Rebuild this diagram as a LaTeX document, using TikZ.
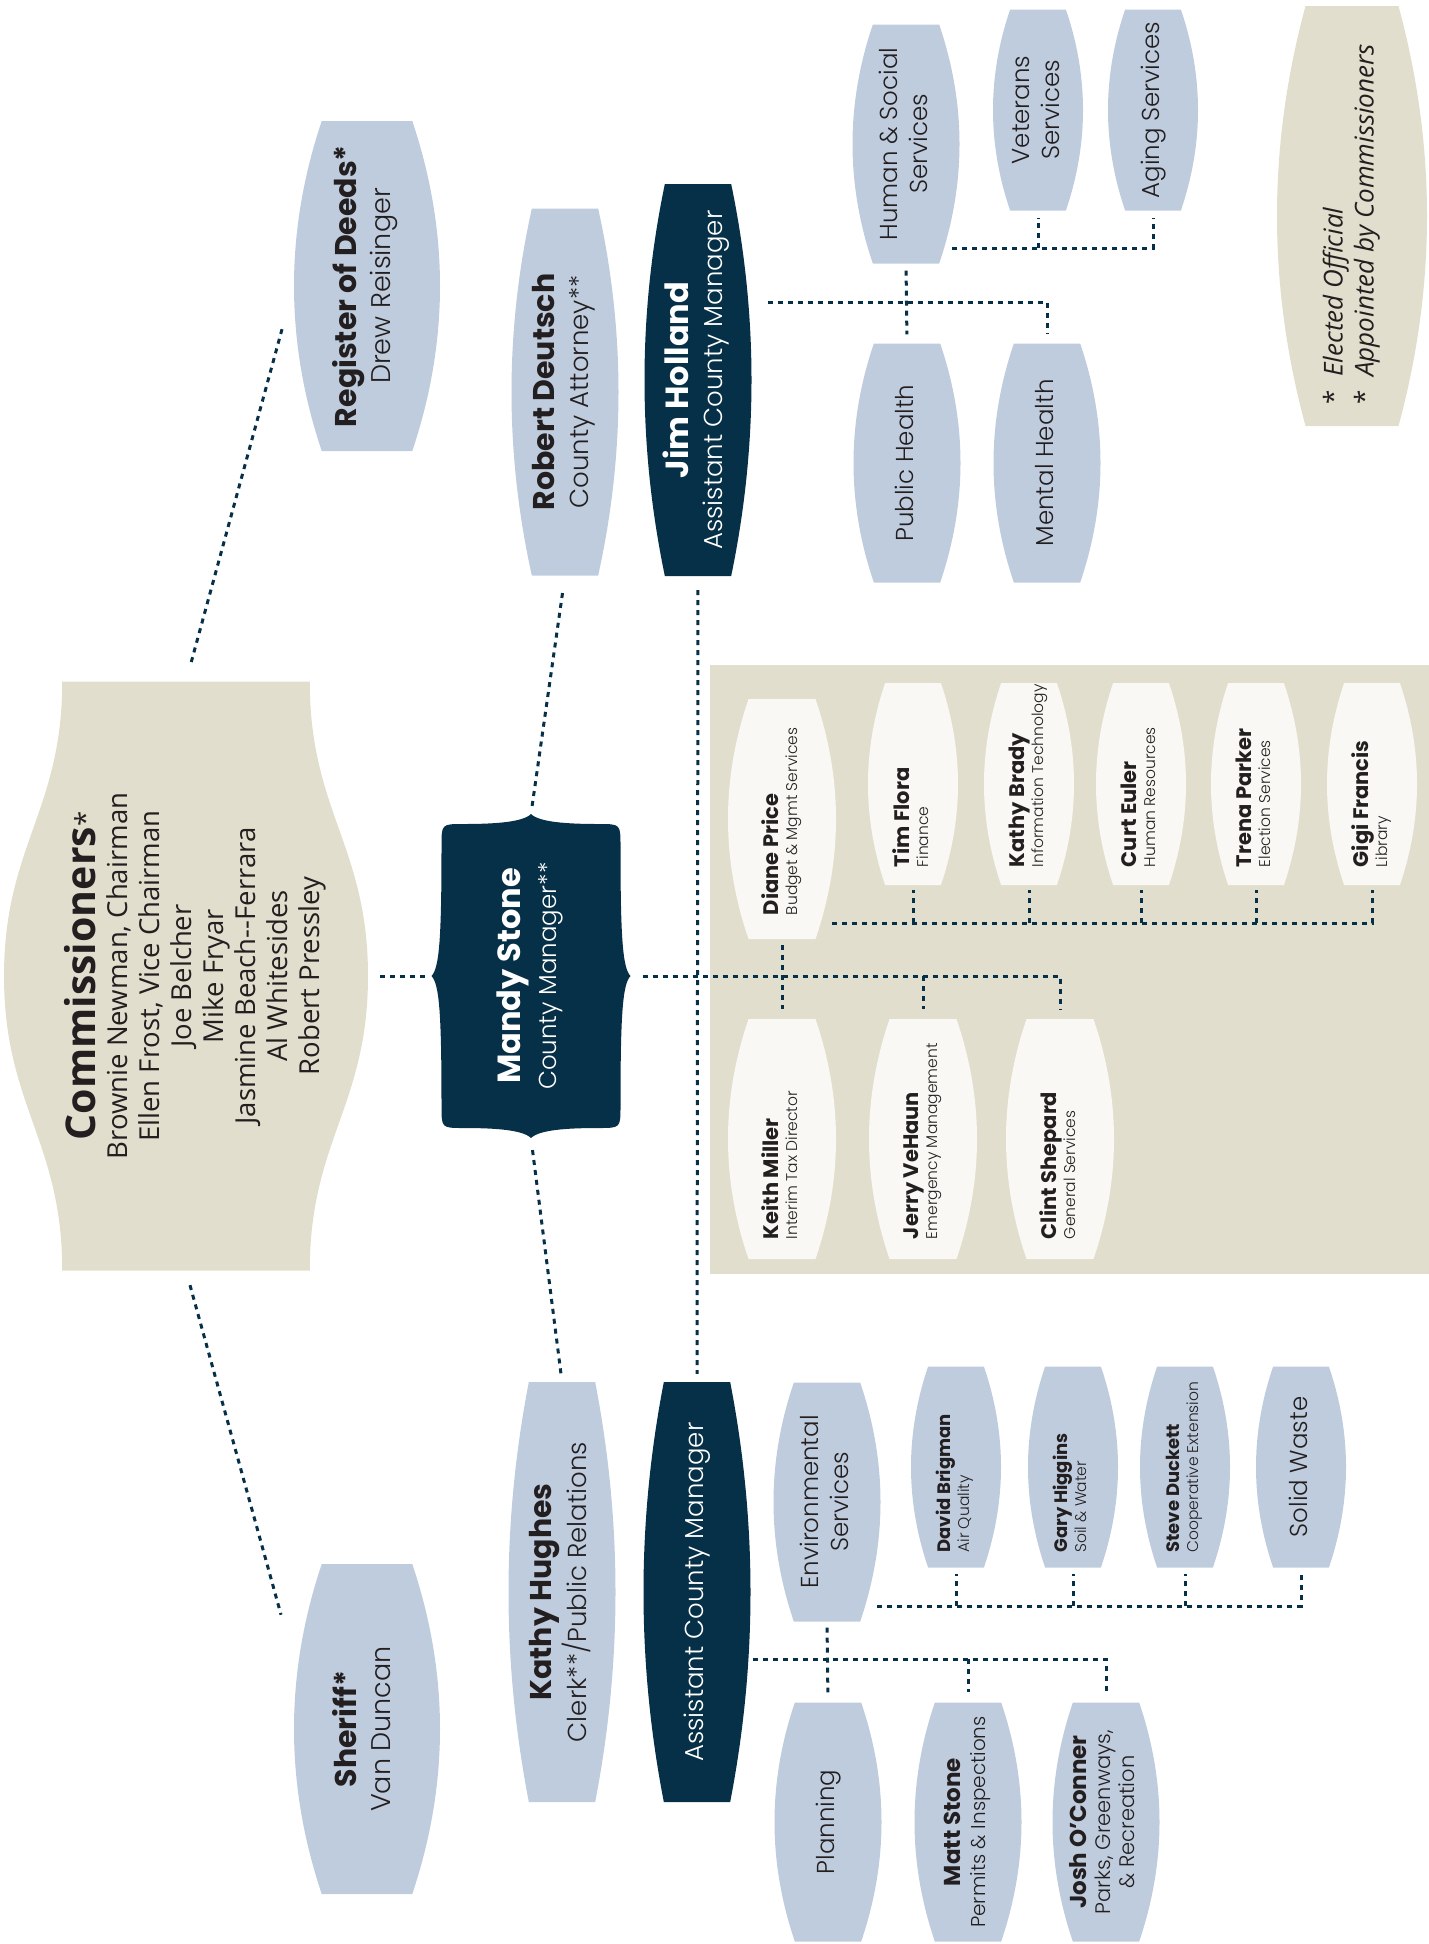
\documentclass[tikz,border=0pt]{standalone}
\usepackage{fontspec}
\setmainfont{Poppins}[UprightFont=* Light, BoldFont=* Bold]
\newfontfamily\opensans{Open Sans}
\usepackage{graphicx}
\usetikzlibrary{calc,positioning}

\definecolor{slate}{RGB}{191,204,221}
\definecolor{navy}{RGB}{6,48,71}
\definecolor{sand}{RGB}{226,222,205}
\definecolor{paper}{RGB}{249,248,244}
\definecolor{ink}{RGB}{35,31,32}

\newcommand\vc[1]{\rotatebox{90}{\begin{tabular}{@{}c@{}}#1\end{tabular}}}
\newcommand\vl[3][18pt]{\rotatebox{90}{\makebox[#2][l]{\hspace{#1}\begin{tabular}{@{}l@{}}#3\end{tabular}}}}
\newcommand\lead[2]{{\fontsize{#1}{#1}\selectfont\bfseries #2}}
\newcommand\minor{\fontsize{15.5}{19}\selectfont}

\tikzset{
  barrel/.style={inner sep=0pt, text=ink, path picture={
    \fill[#1] let \p1=(path picture bounding box.south west),
      \p2=(path picture bounding box.north east),
      \n1={0.19*(\x2-\x1)}, \n2={(\y2-\y1)/3} in
      (\x1+\n1,\y1) -- (\x2-\n1,\y1)
      .. controls (\x2+\n1/3,\y1+\n2) and (\x2+\n1/3,\y2-\n2) .. (\x2-\n1,\y2)
      -- (\x1+\n1,\y2)
      .. controls (\x1-\n1/3,\y2-\n2) and (\x1-\n1/3,\y1+\n2) .. cycle;}},
  wave/.style={inner sep=0pt, text=ink, path picture={
    \fill[sand] let \p1=(path picture bounding box.south west),
      \p2=(path picture bounding box.north east),
      \n1={0.16*(\x2-\x1)}, \n2={(\y1+\y2)/2}, \n3={0.22*(\y2-\y1)} in
      (\x1+\n1,\y2) -- (\x2-\n1,\y2)
      .. controls (\x2-\n1,\y2-\n3) and (\x2,\n2+\n3) .. (\x2,\n2)
      .. controls (\x2,\n2-\n3) and (\x2-\n1,\y1+\n3) .. (\x2-\n1,\y1)
      -- (\x1+\n1,\y1)
      .. controls (\x1+\n1,\y1+\n3) and (\x1,\n2-\n3) .. (\x1,\n2)
      .. controls (\x1,\n2+\n3) and (\x1+\n1,\y2-\n3) .. cycle;}},
  bracket/.style={inner sep=0pt, text=white, path picture={
    \fill[navy] let \p1=(path picture bounding box.south west),
      \p2=(path picture bounding box.north east),
      \n1={(\x1+\x2)/2}, \n2={(\y1+\y2)/2} in
      (\x1+10,\y2-32) .. controls (\x1+10,\y2-10) .. (\x1+32,\y2-10)
      .. controls (\n1-35,\y2-10) and (\n1-8,\y2-8) .. (\n1,\y2)
      .. controls (\n1+8,\y2-8) and (\n1+35,\y2-10) .. (\x2-32,\y2-10)
      .. controls (\x2-10,\y2-10) .. (\x2-10,\y2-32)
      .. controls (\x2-10,\n2+40) and (\x2-8,\n2+8) .. (\x2,\n2)
      .. controls (\x2-8,\n2-8) and (\x2-10,\n2-40) .. (\x2-10,\y1+32)
      .. controls (\x2-10,\y1+10) .. (\x2-32,\y1+10)
      .. controls (\n1+35,\y1+10) and (\n1+8,\y1+8) .. (\n1,\y1)
      .. controls (\n1-8,\y1+8) and (\n1-35,\y1+10) .. (\x1+32,\y1+10)
      .. controls (\x1+10,\y1+10) .. (\x1+10,\y1+32)
      .. controls (\x1+10,\n2-40) and (\x1+8,\n2-8) .. (\x1,\n2)
      .. controls (\x1+8,\n2+8) and (\x1+10,\n2+40) .. cycle;}},
  big/.style={barrel=slate, minimum width=146pt, minimum height=330pt, font=\fontsize{27}{34}\selectfont},
  tall/.style={barrel=slate, minimum width=107pt, font=\fontsize{26}{34}\selectfont},
  dark/.style={barrel=navy, text=white},
  mid/.style={barrel=slate, minimum width=107pt, minimum height=239pt, font=\fontsize{24.5}{30}\selectfont},
  small/.style={barrel=slate, minimum width=90pt, minimum height=201pt, font=\fontsize{24.5}{30}\selectfont},
  unit/.style={small, font=\fontsize{18}{19}\selectfont},
  staff/.style={barrel=paper, minimum width=90pt, minimum height=202pt, font=\fontsize{21}{19}\selectfont},
  chief/.style={staff, minimum width=108pt, minimum height=240pt},
  link/.style={draw=navy, line width=3pt, dash pattern=on 5pt off 5pt}
}

\begin{document}
\begin{tikzpicture}[x=1pt, y=-1pt]
\useasboundingbox (0,0) rectangle (1429,1944);
\fill[sand] (710,665) rectangle (1429,1274);

\node[wave, minimum width=364pt, minimum height=589pt, font=\opensans\fontsize{27.5}{32}\selectfont] (comm) at (186,976)
  {\vc{\rule{0pt}{52pt}\lead{41}{Commissioners}*\\ Brownie Newman, Chairman\\ Ellen Frost, Vice Chairman\\
   Joe Belcher\\ Mike Fryar\\ Jasmine Beach-{}-Ferrara\\ Al Whitesides\\ Robert Pressley}};
\node[big] (reg) at (367,286) {\vc{\lead{30}{Register of Deeds*}\\ Drew Reisinger}};
\node[big] (sheriff) at (367,1729) {\vc{\lead{30}{Sheriff*}\\ Van Duncan}};
\node[bracket, minimum width=199pt, minimum height=324pt, font=\fontsize{24.5}{36}\selectfont] (mandy) at (531,976)
  {\vc{\lead{32}{Mandy Stone}\\ County Manager**}};
\node[tall, minimum height=367pt] (robert) at (565,392) {\vc{\lead{30}{Robert Deutsch}\\ County Attorney**}};
\node[tall, minimum height=420pt] (khughes) at (562,1592) {\vc{\lead{30}{Kathy Hughes}\\ Clerk**/Public Relations}};
\node[tall, dark, minimum height=392pt] (jim) at (698,380)
  {\vc{\lead{32}{Jim Holland}\\ Assistant County Manager}};
\node[tall, dark, minimum height=420pt] (acm) at (697,1592) {\vc{Assistant County Manager}};

\node[mid] (human) at (906,144) {\vc{Human \& Social\\ Services}};
\node[small] (veterans) at (1038,110) {\vc{Veterans\\ Services}};
\node[small] (aging) at (1153,110) {\vc{Aging Services}};
\node[mid] (phealth) at (907,463) {\vc{Public Health}};
\node[mid] (mhealth) at (1047,463) {\vc{Mental Health}};
\node[barrel=sand, minimum width=150pt, minimum height=420pt, font=\opensans\fontsize{26}{31}\selectfont] (legend) at (1352,216)
  {\rotatebox{90}{\makebox[420pt][l]{\hspace{22pt}\begin{tabular}{@{}l@{\enspace}l@{}}* & \itshape Elected Official\\ ** & \itshape Appointed by Commissioners\end{tabular}}}};

\node[chief] (diane) at (782,819) {\vl[24pt]{240pt}{\textbf{Diane Price}\\ \minor Budget \& Mgmt Services}};
\node[staff] (tim) at (913,784) {\vl{202pt}{\textbf{Tim Flora}\\ \minor Finance}};
\node[staff] (kbrady) at (1029,784) {\vl{202pt}{\textbf{Kathy Brady}\\ \minor Information Technology}};
\node[staff] (curt) at (1141,784) {\vl{202pt}{\textbf{Curt Euler}\\ \minor Human Resources}};
\node[staff] (trena) at (1256,784) {\vl{202pt}{\textbf{Trena Parker}\\ \minor Election Services}};
\node[staff] (gigi) at (1372,784) {\vl{202pt}{\textbf{Gigi Francis}\\ \minor Library}};
\node[chief] (keith) at (782,1139) {\vl[20pt]{240pt}{\textbf{Keith Miller}\\ \minor Interim Tax Director}};
\node[chief] (jerry) at (923,1139) {\vl[20pt]{240pt}{\textbf{Jerry VeHaun}\\ \minor Emergency Management}};
\node[chief] (clint) at (1060,1139) {\vl[20pt]{240pt}{\textbf{Clint Shepard}\\ \minor General Services}};

\node[mid] (env) at (827,1502) {\vc{Environmental\\ Services}};
\node[unit] (david) at (956,1467) {\vl[15pt]{201pt}{\textbf{David Brigman}\\ \minor Air Quality}};
\node[unit] (gary) at (1073,1467) {\vl[15pt]{201pt}{\textbf{Gary Higgins}\\ \minor Soil \& Water}};
\node[unit] (steve) at (1185,1467) {\vl[15pt]{201pt}{\textbf{Steve Duckett}\\ \minor Cooperative Extension}};
\node[small] (solid) at (1301,1467) {\vc{Solid Waste}};
\node[mid] (planning) at (828,1822) {\vc{Planning}};
\node[mid, font=\fontsize{20}{25}\selectfont] (mstone) at (968,1822) {\vc{\lead{23}{Matt Stone}\\ Permits \& Inspections}};
\node[mid, font=\fontsize{21}{24}\selectfont] (josh) at (1106,1822) {\vc{\lead{23}{Josh O’Conner}\\ Parks, Greenways,\\ \& Recreation}};

\coordinate (jbus) at (768,302);
\coordinate (hbus) at (952,248);
\coordinate (pbus) at (832,923);
\coordinate (ebus) at (877,1606);
\coordinate (abus) at (753,1659);

\draw[link, shorten <=20pt, shorten >=44pt] (comm.north) -- (reg.west);
\draw[link, shorten <=15pt, shorten >=48pt] (comm.south) -- ([yshift=68pt]sheriff.west);
\draw[link, shorten <=12pt, shorten >=4pt] (comm.east) -- (mandy.west);
\draw[link, shorten <=8pt, shorten >=15pt] (mandy.north) -- (robert.south);
\draw[link, shorten <=12pt, shorten >=4pt] (mandy.south) -- (khughes.north);
\draw[link, shorten <=14pt, shorten >=8pt] (jim.south) -- (acm.north);
\draw[link, shorten <=12pt, shorten >=10pt] (mandy.east) -| (clint.north);
\draw[link, shorten <=6pt, shorten >=10pt] (diane.south) -- (keith.north);
\draw[link, shorten >=10pt] (jerry.north |- mandy.east) -- (jerry.north);
\draw[link, shorten >=5pt] (pbus) -| (gigi.south);
\foreach \n in {tim,kbrady,curt,trena}
  \draw[link, shorten >=5pt] (\n.south |- pbus) -- (\n.south);
\draw[link, shorten >=9pt] (jbus) -| (mhealth.north);
\draw[link, shorten <=7pt, shorten >=9pt] (human.south) -- (phealth.north);
\draw[link, shorten >=7pt] (hbus) -| (aging.south);
\draw[link, shorten >=7pt] (veterans.south |- hbus) -- (veterans.south);
\draw[link, shorten >=6pt] (ebus) -| (solid.south);
\foreach \n in {david,gary,steve}
  \draw[link, shorten >=6pt] (\n.south |- ebus) -- (\n.south);
\draw[link, shorten >=10pt] (abus) -| (josh.north);
\draw[link, shorten <=6pt, shorten >=10pt] (env.south) -- (planning.north);
\draw[link, shorten >=10pt] (mstone.north |- abus) -- (mstone.north);
\end{tikzpicture}
\end{document}
